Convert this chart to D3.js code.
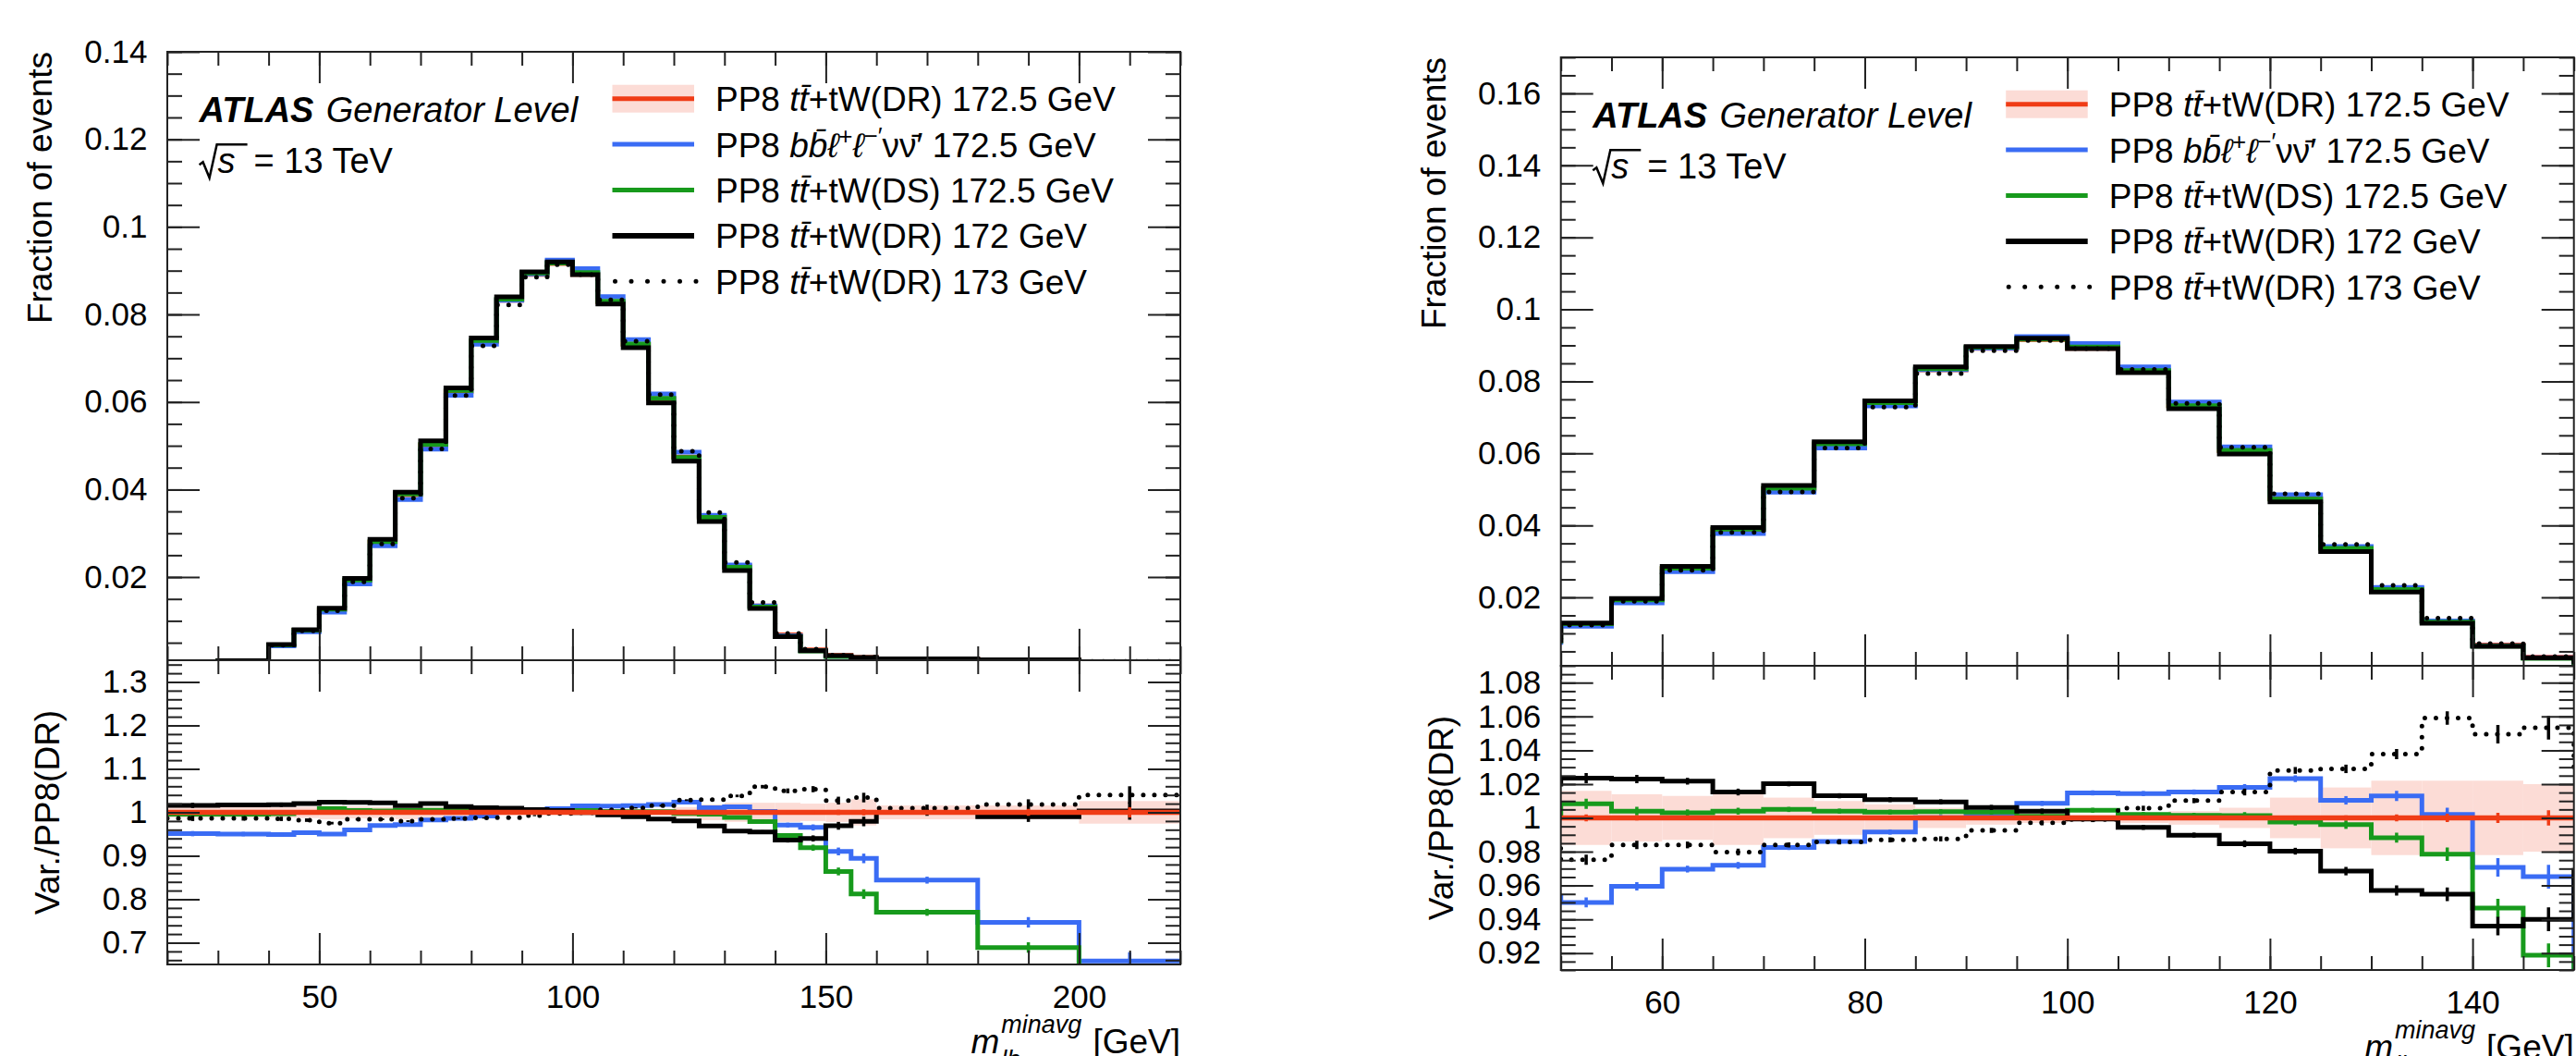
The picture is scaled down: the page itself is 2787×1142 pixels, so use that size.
<!DOCTYPE html>
<html>

<head>
    <meta charset="utf-8" />
    <title>m_lb minavg</title>
    <script type="text/javascript" src="https://cdn.jsdelivr.net/npm/d3@7"></script>
    <style>
        body { margin: 0; background: #fff; }
        svg text { font-family: "Liberation Sans", Arial, Helvetica, sans-serif; fill: #000; }
    </style>
</head>

<body>
    <script type="text/javascript">
        // bin edges [GeV], same binning for both panels
        const binEdges = [20, 30, 40, 45, 50, 55, 60, 65, 70, 75, 80, 85, 90, 95, 100, 105, 110, 115,
            120, 125, 130, 135, 140, 145, 150, 155, 160, 180, 200, 220];

        // PP8 tt+tW(DR) 172.5 GeV, fraction of events
        const nominal = [0.0005, 0.0009, 0.0045, 0.00784, 0.01259, 0.01923, 0.02799, 0.03881, 0.05009,
            0.06238, 0.0738, 0.08321, 0.08915, 0.09163, 0.08916, 0.08286, 0.07315, 0.06073, 0.04743,
            0.03376, 0.02247, 0.01341, 0.00681, 0.00336, 0.00211, 0.00166, 0.0013, 0.0011, 0.0007];

        // ratios to nominal
        const ratioBB4L = [0.951, 0.950, 0.949, 0.953, 0.950, 0.9595, 0.9697, 0.9719, 0.9825, 0.9861,
            0.9916, 1.0002, 1.001, 1.0086, 1.0148, 1.0144, 1.0153, 1.018, 1.0232, 1.0104, 1.013, 1.002,
            0.9707, 0.9652, 0.910, 0.894, 0.844, 0.747, 0.658];
        const ratioDS = [0.996, 0.996, 0.997, 1.000, 1.0084, 1.004, 1.003, 1.004, 1.005, 1.004, 1.0034,
            1.0037, 1.0034, 1.001, 1.0045, 1.002, 1.0015, 1.0014, 0.9975, 0.996, 0.9883, 0.9785, 0.9466,
            0.9187, 0.864, 0.812, 0.770, 0.689, 0.60];
        const ratio172 = [1.016, 1.017, 1.0175, 1.020, 1.0235, 1.023, 1.0217, 1.0153, 1.0202, 1.0131,
            1.0108, 1.0095, 1.0062, 1.004, 0.9993, 0.9944, 0.9898, 0.9847, 0.9803, 0.9685, 0.957, 0.9548,
            0.936, 0.940, 0.969, 0.979, 1.000, 0.990, 1.003];
        const ratio173 = [0.986, 0.986, 0.985, 0.982, 0.9752, 0.984, 0.984, 0.9798, 0.984, 0.9858, 0.987,
            0.9876, 0.9926, 0.9971, 0.999, 1.0057, 1.0102, 1.0153, 1.0281, 1.029, 1.0378, 1.0591, 1.0495,
            1.0533, 1.027, 1.034, 1.0097, 1.018, 1.040];

        // half width of the nominal uncertainty band (ratio units)
        const bandNominal = [0.012, 0.012, 0.012, 0.013, 0.016, 0.014, 0.013, 0.016, 0.012, 0.010, 0.008,
            0.006, 0.004, 0.003, 0.002, 0.003, 0.004, 0.006, 0.012, 0.018, 0.022, 0.022, 0.022, 0.020,
            0.022, 0.030, 0.016, 0.016, 0.026];

        // statistical error bars in the ratio
        const errVariation = [0.006, 0.005, 0.005, 0.004, 0.003, 0.0025, 0.002, 0.002, 0.0015, 0.0015,
            0.0015, 0.0015, 0.0015, 0.0015, 0.0015, 0.0015, 0.0015, 0.002, 0.002, 0.0025, 0.003, 0.004,
            0.0055, 0.007, 0.009, 0.011, 0.008, 0.012, 0.02];
        const errNominal = [0.004, 0.003, 0.003, 0.0025, 0.002, 0.0015, 0.0012, 0.001, 0.001, 0.001, 0.001,
            0.001, 0.001, 0.001, 0.001, 0.001, 0.001, 0.0012, 0.0013, 0.0015, 0.002, 0.0025, 0.003, 0.0045,
            0.006, 0.007, 0.005, 0.008, 0.012];

        // axis ticks
        const xMajorLeft = [50, 100, 150, 200];
        const xMajorRight = [60, 80, 100, 120, 140];
        const yMajorLeft = [0.02, 0.04, 0.06, 0.08, 0.1, 0.12, 0.14];
        const yMajorRight = [0.02, 0.04, 0.06, 0.08, 0.1, 0.12, 0.14, 0.16];
        const rMajorLeft = [0.7, 0.8, 0.9, 1, 1.1, 1.2, 1.3];
        const rMajorRight = [0.92, 0.94, 0.96, 0.98, 1, 1.02, 1.04, 1.06, 1.08];

        const legendEntries = [
            [["PP8 ", ""], ["tt\u0304", "i"], ["+tW(DR) 172.5 GeV", ""]],
            [["PP8 ", ""], ["bb\u0304\u2113", "i"], ["+", "sup"], ["\u2113", "i"], ["\u2212\u2032", "sup"],
                ["\u03bd\u03bd\u0304\u2032", ""], [" 172.5 GeV", ""]],
            [["PP8 ", ""], ["tt\u0304", "i"], ["+tW(DS) 172.5 GeV", ""]],
            [["PP8 ", ""], ["tt\u0304", "i"], ["+tW(DR) 172 GeV", ""]],
            [["PP8 ", ""], ["tt\u0304", "i"], ["+tW(DR) 173 GeV", ""]]
        ];

        const colors = { red: "#f03c16", blue: "#3a6cf4", green: "#179a1c", black: "#000", band: "#fcdcd6" };

        const series = [
            { key: "bb4l", ratio: ratioBB4L, color: colors.blue, dash: null },
            { key: "ds", ratio: ratioDS, color: colors.green, dash: null },
            { key: "m172", ratio: ratio172, color: colors.black, dash: null },
            { key: "m173", ratio: ratio173, color: colors.black, dash: "0 12" }
        ];

        const W = 2787, H = 1142;
        const PW = 1096, UH = 658, LH = 329;
        const labelSize = 35, titleSize = 37;
        const fmt = d3.format("~f");

        const svg = d3.select("body").append("svg")
            .attr("width", W)
            .attr("height", H);

        const stepPoints = (values) => {
            let pts = [];
            values.forEach(function (v, i) {
                pts.push([binEdges[i], v]);
                pts.push([binEdges[i + 1], v]);
            });
            return pts;
        };

        const drawTicks = (g, axis, scale, values, len, labels, pad, transform) => {
            let a = axis(scale)
                .tickValues(values)
                .tickSizeInner(-len)
                .tickSizeOuter(0)
                .tickPadding(pad)
                .tickFormat(labels ? fmt : "");
            let ag = g.append("g")
                .attr("transform", transform)
                .call(a);
            ag.attr("font-size", labelSize);
            ag.select(".domain").remove();
            ag.selectAll("line").attr("stroke", "#222").attr("stroke-width", 2);
        };

        const inDomain = (vals, dom) => vals.filter(v => v >= dom[0] - 1e-9 && v <= dom[1] + 1e-9);

        const drawPanel = (cfg) => {
            let g = svg.append("g")
                .attr("transform", `translate(${cfg.left},${cfg.top})`);

            let x = d3.scaleLinear().domain(cfg.xDomain).range([0, PW]);
            let yU = d3.scaleLinear().domain(cfg.yDomain).range([UH, 0]);
            let yR = d3.scaleLinear().domain(cfg.rDomain).range([UH + LH, UH]);

            let defs = g.append("defs");
            defs.append("clipPath").attr("id", cfg.id + "-up")
                .append("rect").attr("width", PW).attr("height", UH);
            defs.append("clipPath").attr("id", cfg.id + "-lo")
                .append("rect").attr("y", UH).attr("width", PW).attr("height", LH);

            // upper pad
            let up = g.append("g").attr("clip-path", `url(#${cfg.id}-up)`);
            let lineU = d3.line().x(d => x(d[0])).y(d => yU(d[1]));

            up.append("path")
                .attr("d", lineU(stepPoints(nominal)))
                .attr("fill", "none")
                .attr("stroke", colors.red)
                .attr("stroke-width", 5);

            series.forEach(function (s) {
                let vals = nominal.map((v, i) => v * s.ratio[i]);
                up.append("path")
                    .attr("d", lineU(stepPoints(vals)))
                    .attr("fill", "none")
                    .attr("stroke", s.color)
                    .attr("stroke-width", 5)
                    .attr("stroke-linecap", s.dash ? "round" : "butt")
                    .attr("stroke-dasharray", s.dash);
            });

            // ratio pad
            let lo = g.append("g").attr("clip-path", `url(#${cfg.id}-lo)`);
            let lineR = d3.line().x(d => x(d[0])).y(d => yR(d[1]));

            lo.selectAll("rect.band")
                .data(bandNominal)
                .enter()
                .append("rect")
                .attr("class", "band")
                .attr("x", (d, i) => x(binEdges[i]))
                .attr("width", (d, i) => x(binEdges[i + 1]) - x(binEdges[i]))
                .attr("y", d => yR(1 + d))
                .attr("height", d => yR(1 - d) - yR(1 + d))
                .attr("fill", colors.band);

            const errBars = (sel, ratio, err, color, cls) => {
                sel.selectAll("line." + cls)
                    .data(ratio)
                    .enter()
                    .append("line")
                    .attr("class", cls)
                    .attr("x1", (d, i) => x((binEdges[i] + binEdges[i + 1]) / 2))
                    .attr("x2", (d, i) => x((binEdges[i] + binEdges[i + 1]) / 2))
                    .attr("y1", (d, i) => yR(d - err[i]))
                    .attr("y2", (d, i) => yR(d + err[i]))
                    .attr("stroke", color)
                    .attr("stroke-width", 3.5);
            };

            series.forEach(function (s) {
                lo.append("path")
                    .attr("d", lineR(stepPoints(s.ratio)))
                    .attr("fill", "none")
                    .attr("stroke", s.color)
                    .attr("stroke-width", 5)
                    .attr("stroke-linecap", s.dash ? "round" : "butt")
                    .attr("stroke-dasharray", s.dash);
                errBars(lo, s.ratio, errVariation, s.color, "err-" + s.key);
            });

            let ones = nominal.map(() => 1);
            lo.append("path")
                .attr("d", lineR(stepPoints(ones)))
                .attr("fill", "none")
                .attr("stroke", colors.red)
                .attr("stroke-width", 5.5);
            errBars(lo, ones, errNominal, colors.red, "err-nom");

            // ticks on all sides, pointing inwards
            let xMinor = inDomain(d3.range(cfg.xDomain[0], cfg.xDomain[1] + 0.001, cfg.xMinorStep), cfg.xDomain);
            let yMinor = inDomain(d3.range(0, cfg.yDomain[1] + 1e-6, 0.005), cfg.yDomain);
            let rMinor = inDomain(d3.range(0.6, 1.4, cfg.rMinorStep), cfg.rDomain);

            [0, UH, UH + LH].forEach(function (yy, k) {
                if (k > 0) {
                    drawTicks(g, d3.axisBottom, x, xMinor, 15, false, 0, `translate(0,${yy})`);
                    drawTicks(g, d3.axisBottom, x, cfg.xMajor, 34, k === 2, 47 - 0.71 * labelSize, `translate(0,${yy})`);
                }
                if (k < 2) {
                    drawTicks(g, d3.axisTop, x, xMinor, 15, false, 0, `translate(0,${yy})`);
                    drawTicks(g, d3.axisTop, x, cfg.xMajor, 34, false, 0, `translate(0,${yy})`);
                }
            });

            drawTicks(g, d3.axisLeft, yU, yMinor, 16, false, 0, "translate(0,0)");
            drawTicks(g, d3.axisLeft, yU, cfg.yMajor, 35, true, 21.6, "translate(0,0)");
            drawTicks(g, d3.axisRight, yU, yMinor, 16, false, 0, `translate(${PW},0)`);
            drawTicks(g, d3.axisRight, yU, cfg.yMajor, 35, false, 0, `translate(${PW},0)`);
            drawTicks(g, d3.axisLeft, yR, rMinor, 16, false, 0, "translate(0,0)");
            drawTicks(g, d3.axisLeft, yR, cfg.rMajor, 35, true, 21.6, "translate(0,0)");
            drawTicks(g, d3.axisRight, yR, rMinor, 16, false, 0, `translate(${PW},0)`);
            drawTicks(g, d3.axisRight, yR, cfg.rMajor, 35, false, 0, `translate(${PW},0)`);

            g.append("rect")
                .attr("width", PW).attr("height", UH)
                .attr("fill", "none").attr("stroke", "#222").attr("stroke-width", 2);
            g.append("rect")
                .attr("y", UH).attr("width", PW).attr("height", LH)
                .attr("fill", "none").attr("stroke", "#222").attr("stroke-width", 2);

            // axis titles
            g.append("text")
                .attr("transform", `translate(-125,0) rotate(-90)`)
                .attr("text-anchor", "end")
                .attr("font-size", titleSize)
                .text("Fraction of events");
            g.append("text")
                .attr("transform", `translate(-117,${UH + LH / 2}) rotate(-90)`)
                .attr("text-anchor", "middle")
                .attr("font-size", titleSize)
                .text("Var./PP8(DR)");

            let base = UH + LH + 96;
            let gev = g.append("text")
                .attr("x", PW).attr("y", base)
                .attr("text-anchor", "end")
                .attr("font-size", titleSize)
                .text("[GeV]");
            let wG = gev.node().getComputedTextLength();
            let sup = g.append("text")
                .attr("x", PW - wG - 12).attr("y", base - 22)
                .attr("text-anchor", "end")
                .attr("font-size", 27)
                .attr("font-style", "italic")
                .text("minavg");
            let wS = sup.node().getComputedTextLength();
            g.append("text")
                .attr("x", PW - wG - 12 - wS).attr("y", base + 16)
                .attr("font-size", 27)
                .attr("font-style", "italic")
                .text("lb");
            g.append("text")
                .attr("x", PW - wG - 12 - wS - 2).attr("y", base)
                .attr("text-anchor", "end")
                .attr("font-size", titleSize)
                .attr("font-style", "italic")
                .text("m");

            // ATLAS label
            let atl = g.append("text")
                .attr("x", 34.6).attr("y", 75.7)
                .attr("font-size", 38);
            atl.append("tspan").attr("font-weight", "bold").attr("font-style", "italic").text("ATLAS");
            atl.append("tspan").attr("x", 171.7).attr("font-style", "italic").text("Generator Level");

            let sq = g.append("g").attr("transform", "translate(34.6,131.3)");
            sq.append("path")
                .attr("d", "M0,-9 L4,-12 L11,5 L19,-31 L52,-31")
                .attr("fill", "none").attr("stroke", "#000").attr("stroke-width", 2.5);
            sq.append("text").attr("x", 20).attr("font-size", 38).attr("font-style", "italic").text("s");
            sq.append("text").attr("x", 59).attr("font-size", 38).text("= 13 TeV");

            // legend
            let leg = g.append("g").attr("transform", "translate(481.5,50.7)");
            legendEntries.forEach(function (entry, i) {
                let row = leg.append("g").attr("transform", `translate(0,${i * 49.4})`);
                if (i === 0) {
                    row.append("rect").attr("y", -15).attr("width", 88.5).attr("height", 30).attr("fill", colors.band);
                }
                let c = i === 0 ? colors.red : series[i - 1].color;
                row.append("line")
                    .attr("x1", 0).attr("x2", 88.5)
                    .attr("stroke", c)
                    .attr("stroke-width", i === 3 ? 6 : 5)
                    .attr("stroke-linecap", i === 4 ? "round" : "butt")
                    .attr("stroke-dasharray", i === 4 ? "0 17.5" : null)
                    .attr("transform", i === 4 ? "translate(3,0)" : null);
                let t = row.append("text")
                    .attr("x", 111.5).attr("y", 13.5)
                    .attr("font-size", titleSize);
                let shift = 0;
                entry.forEach(function (seg) {
                    let ts = t.append("tspan").text(seg[0]);
                    if (seg[1] === "i") ts.attr("font-style", "italic");
                    if (shift) {
                        ts.attr("dy", shift);
                        shift = 0;
                    }
                    if (seg[1] === "sup") {
                        ts.attr("font-size", 26).attr("dy", -14);
                        shift = 14;
                    }
                });
            });
        };

        drawPanel({
            id: "left", left: 181, top: 56,
            xDomain: [20, 220], xMajor: xMajorLeft, xMinorStep: 10,
            yDomain: [0.001, 0.14], yMajor: yMajorLeft,
            rDomain: [0.65, 1.35], rMajor: rMajorLeft, rMinorStep: 0.02
        });

        drawPanel({
            id: "right", left: 1688.7, top: 62,
            xDomain: [50, 150], xMajor: xMajorRight, xMinorStep: 5,
            yDomain: [0.001, 0.17], yMajor: yMajorRight,
            rDomain: [0.91, 1.09], rMajor: rMajorRight, rMinorStep: 0.005
        });
    </script>
</body>

</html>
